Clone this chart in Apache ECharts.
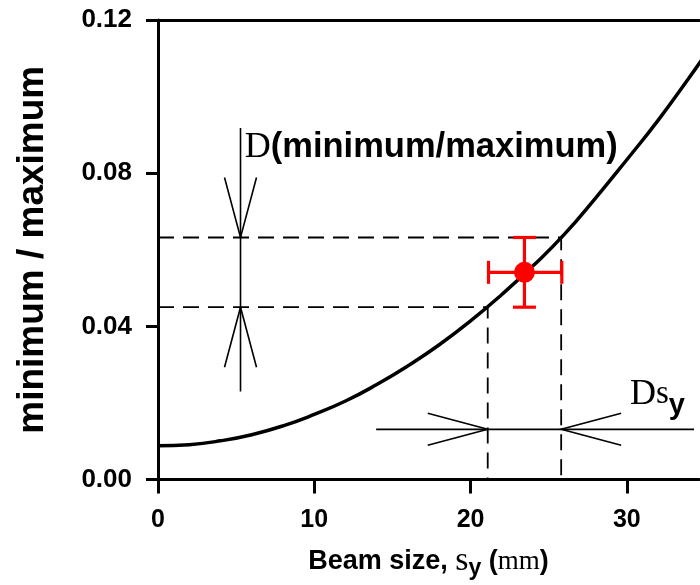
<!DOCTYPE html>
<html>
<head>
<meta charset="utf-8">
<script src="https://cdn.jsdelivr.net/npm/echarts@6/dist/echarts.min.js"></script>
<style>
html,body{margin:0;padding:0;background:#fff;}
#chart{width:700px;height:585px;}
</style>
</head>
<body>
<div id="chart"></div>
<script>
// ---- data ----
const xTicks = [0, 10, 20, 30];
const yTicks = [0.00, 0.04, 0.08, 0.12];
const curveX = [0, 2, 4, 6, 8, 10, 12, 14, 16, 18, 20, 22, 24, 26, 28, 30, 32, 34, 35];
const curveY = [0.0088, 0.0091, 0.0101, 0.0117, 0.0140, 0.0170, 0.0205, 0.0248, 0.0297, 0.0352,
                0.0414, 0.0483, 0.0558, 0.0640, 0.0735, 0.0835, 0.0938, 0.1050, 0.1108];
const pointXY = [23.45, 0.0541];
const pointXErr = [21.15, 25.84];
const pointYErr = [0.0450, 0.0632];
// projection lines (dashed)
const ratioLevels = [0.0450, 0.0632];
const sizeLevels = [21.1, 25.8];
// dimension arrows
const ratioDimX = 5.28;
const ratioDimSpan = [0.0230, 0.0918];
const sizeDimY = 0.0131;
const sizeDimSpan = [13.96, 34.3];
const ratioLabelAt = [5.55, 0.0867];
const sizeLabelAt = [30.2, 0.0222];

const SANS = "'Liberation Sans', Arial, sans-serif";
const SERIF = "'Liberation Serif', 'Times New Roman', serif";

const chart = echarts.init(document.getElementById('chart'));

const dashedPaths = [
  [[0, ratioLevels[1]], [sizeLevels[1], ratioLevels[1]], [sizeLevels[1], 0]],
  [[0, ratioLevels[0]], [sizeLevels[0], ratioLevels[0]], [sizeLevels[0], 0]]
];
const dimLines = [
  [[ratioDimX, ratioDimSpan[0]], [ratioDimX, ratioDimSpan[1]]],
  [[sizeDimSpan[0], sizeDimY], [sizeDimSpan[1], sizeDimY]]
];
const arrowTips = [
  [ratioDimX, ratioLevels[1], 'down'],
  [ratioDimX, ratioLevels[0], 'up'],
  [sizeLevels[0], sizeDimY, 'right'],
  [sizeLevels[1], sizeDimY, 'left']
];

const X_MAX = 34.62;

const option = {
  animation: false,
  backgroundColor: '#fff',
  grid: { left: 158, top: 20, width: 541, height: 460, containLabel: false },
  xAxis: [{
    type: 'value', min: 0, max: X_MAX, interval: 10,
    axisLine: { show: true, onZero: false, lineStyle: { color: '#000', width: 3 } },
    axisTick: { show: true, inside: false, length: 14, lineStyle: { color: '#000', width: 3 } },
    splitLine: { show: false },
    axisLabel: { showMaxLabel: false, margin: 28, color: '#000', fontFamily: SANS, fontWeight: 'bold', fontSize: 25,
      formatter: v => xTicks.includes(v) ? String(v) : '' },
    name: '{b|Beam size, }{s|s}{sub|y}{b| (}{m|mm}{b|)}',
    nameLocation: 'middle', nameGap: 66,
    nameTextStyle: {
      rich: {
        b: { fontFamily: SANS, fontWeight: 'bold', fontSize: 27, color: '#000', lineHeight: 32 },
        s: { fontFamily: SERIF, fontSize: 34, color: '#000', lineHeight: 32 },
        sub: { fontFamily: SANS, fontWeight: 'bold', fontSize: 23, color: '#000', lineHeight: 32, padding: [14, 0, 0, 0] },
        m: { fontFamily: SERIF, fontSize: 27, color: '#000', lineHeight: 32 }
      }
    }
  }, {
    type: 'value', min: 0, max: X_MAX, position: 'top',
    axisLine: { show: true, onZero: false, lineStyle: { color: '#000', width: 3 } },
    axisTick: { show: false }, axisLabel: { show: false }, splitLine: { show: false }
  }],
  yAxis: {
    type: 'value', min: 0, max: 0.12, interval: 0.04,
    axisLine: { show: true, onZero: false, lineStyle: { color: '#000', width: 3 } },
    axisTick: { show: true, inside: false, length: 12, lineStyle: { color: '#000', width: 3 } },
    splitLine: { show: false },
    axisLabel: { margin: 26, color: '#000', fontFamily: SANS, fontWeight: 'bold', fontSize: 26,
      formatter: v => v.toFixed(2) },
    name: 'minimum / maximum',
    nameLocation: 'middle', nameGap: 107,
    nameTextStyle: { fontFamily: SANS, fontWeight: 'bold', fontSize: 37, color: '#000' }
  },
  series: [
    {
      name: 'curve', type: 'line', smooth: true, showSymbol: false, symbol: 'none',
      data: curveX.map((x, i) => [x, curveY[i]]),
      lineStyle: { color: '#000', width: 3.5 }, z: 5
    },
    ...dashedPaths.map(p => ({
      type: 'line', showSymbol: false, symbol: 'none', data: p,
      lineStyle: { color: '#000', width: 1.8, type: [16, 9] }, z: 3
    })),
    {
      type: 'custom', z: 4,
      data: dimLines.map(l => [l[0][0], l[0][1], l[1][0], l[1][1]]),
      renderItem: (params, api) => {
        const a = api.coord([api.value(0), api.value(1)]);
        const b = api.coord([api.value(2), api.value(3)]);
        return { type: 'line', shape: { x1: a[0], y1: a[1], x2: b[0], y2: b[1] },
          style: { stroke: '#000', lineWidth: 1.6 } };
      }
    },
    {
      type: 'custom', z: 4,
      data: arrowTips.map(t => [t[0], t[1], ['down', 'up', 'right', 'left'].indexOf(t[2])]),
      renderItem: (params, api) => {
        const p = api.coord([api.value(0), api.value(1)]);
        const dir = api.value(2);
        const L = 60, W = 16;
        let pts;
        if (dir === 0) pts = [[p[0] - W, p[1] - L], p, [p[0] + W, p[1] - L]];
        else if (dir === 1) pts = [[p[0] - W, p[1] + L], p, [p[0] + W, p[1] + L]];
        else if (dir === 2) pts = [[p[0] - L, p[1] - W], p, [p[0] - L, p[1] + W]];
        else pts = [[p[0] + L, p[1] - W], p, [p[0] + L, p[1] + W]];
        return { type: 'polyline', shape: { points: pts },
          style: { stroke: '#000', lineWidth: 1.6, fill: null } };
      }
    },
    {
      type: 'custom', z: 6,
      data: [[pointXY[0], pointXY[1], pointXErr[0], pointXErr[1], pointYErr[0], pointYErr[1]]],
      renderItem: (params, api) => {
        const c = api.coord([api.value(0), api.value(1)]);
        const xl = api.coord([api.value(2), api.value(1)]);
        const xh = api.coord([api.value(3), api.value(1)]);
        const yl = api.coord([api.value(0), api.value(4)]);
        const yh = api.coord([api.value(0), api.value(5)]);
        const cap = 11.5;
        const st = { stroke: '#ff0000', lineWidth: 3.2 };
        return { type: 'group', children: [
          { type: 'line', shape: { x1: xl[0], y1: c[1], x2: xh[0], y2: c[1] }, style: st },
          { type: 'line', shape: { x1: c[0], y1: yl[1], x2: c[0], y2: yh[1] }, style: st },
          { type: 'line', shape: { x1: xl[0], y1: c[1] - cap, x2: xl[0], y2: c[1] + cap }, style: st },
          { type: 'line', shape: { x1: xh[0], y1: c[1] - cap, x2: xh[0], y2: c[1] + cap }, style: st },
          { type: 'line', shape: { x1: c[0] - cap, y1: yl[1], x2: c[0] + cap, y2: yl[1] }, style: st },
          { type: 'line', shape: { x1: c[0] - cap, y1: yh[1], x2: c[0] + cap, y2: yh[1] }, style: st }
        ] };
      }
    },
    {
      type: 'scatter', z: 7, symbol: 'circle', symbolSize: 21,
      data: [pointXY], itemStyle: { color: '#ff0000', opacity: 1 }
    },
    {
      type: 'scatter', z: 8, symbolSize: 0,
      data: [ratioLabelAt, sizeLabelAt],
      itemStyle: { opacity: 1 },
      label: {
        show: true, position: 'right', distance: 0, opacity: 1,
        formatter: p => p.dataIndex === 0 ? '{d|D}{t|(minimum/maximum)}' : '{d|D}{s|s}{sub|y}',
        rich: {
          d: { fontFamily: SERIF, fontSize: 36, color: '#000', lineHeight: 40 },
          t: { fontFamily: SANS, fontWeight: 'bold', fontSize: 34.5, color: '#000', lineHeight: 40 },
          s: { fontFamily: SERIF, fontSize: 33, color: '#000', lineHeight: 40 },
          sub: { fontFamily: SANS, fontWeight: 'bold', fontSize: 29, color: '#000', lineHeight: 40, padding: [24, 0, 0, 0] }
        }
      }
    }
  ]
};
chart.setOption(option);
</script>
</body>
</html>
